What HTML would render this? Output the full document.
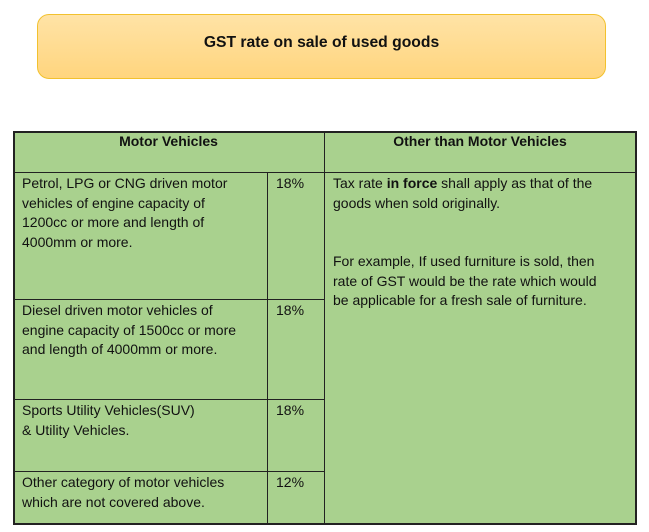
<!DOCTYPE html>
<html><head><style>
body{margin:0;width:649px;height:532px;background:#fff;position:relative;overflow:hidden;font-family:"Liberation Sans",sans-serif;font-size:14px;color:#111}
.ban{position:absolute;left:37px;top:14px;width:567px;height:63px;border:1px solid #F2C12E;border-radius:12px;background:linear-gradient(#FFE3A6,#FFD57E);text-align:center;font-weight:bold;font-size:15.7px;line-height:56px}
.c{position:absolute;background:#A9D18E;border:1px solid #222;box-sizing:border-box}
.t{position:absolute;line-height:19.5px;white-space:nowrap}
b{font-weight:bold}
</style></head><body>
<div class="ban">GST rate on sale of used goods</div>
<div class="c" style="left:13px;top:131px;width:624px;height:394px;border-width:2px"></div>
<div style="position:absolute;left:13px;top:172px;width:624px;height:1px;background:#222"></div>
<div style="position:absolute;left:324px;top:131px;width:1px;height:394px;background:#222"></div>
<div style="position:absolute;left:267px;top:172px;width:1px;height:353px;background:#222"></div>
<div style="position:absolute;left:13px;top:299px;width:311px;height:1px;background:#222"></div>
<div style="position:absolute;left:13px;top:399px;width:311px;height:1px;background:#222"></div>
<div style="position:absolute;left:13px;top:471px;width:311px;height:1px;background:#222"></div>
<div class="t" style="left:13px;width:311px;text-align:center;top:132px;font-weight:bold">Motor Vehicles</div>
<div class="t" style="left:324px;width:312px;text-align:center;top:132px;font-weight:bold">Other than Motor Vehicles</div>
<div class="t" style="left:22px;top:174px">Petrol, LPG or CNG driven motor<br>vehicles of engine capacity of<br>1200cc or more and length of<br>4000mm or more.</div>
<div class="t" style="left:276px;top:174px">18%</div>
<div class="t" style="left:22px;top:301px">Diesel driven motor vehicles of<br>engine capacity of 1500cc or more<br>and length of 4000mm or more.</div>
<div class="t" style="left:276px;top:301px">18%</div>
<div class="t" style="left:22px;top:401px">Sports Utility Vehicles(SUV)<br>&amp; Utility Vehicles.</div>
<div class="t" style="left:276px;top:401px">18%</div>
<div class="t" style="left:22px;top:473px">Other category of motor vehicles<br>which are not covered above.</div>
<div class="t" style="left:276px;top:473px">12%</div>
<div class="t" style="left:333px;top:174px">Tax rate <b>in force</b> shall apply as that of the<br>goods when sold originally.</div>
<div class="t" style="left:333px;top:252px">For example, If used furniture is sold, then<br>rate of GST would be the rate which would<br>be applicable for a fresh sale of furniture.</div>
</body></html>
